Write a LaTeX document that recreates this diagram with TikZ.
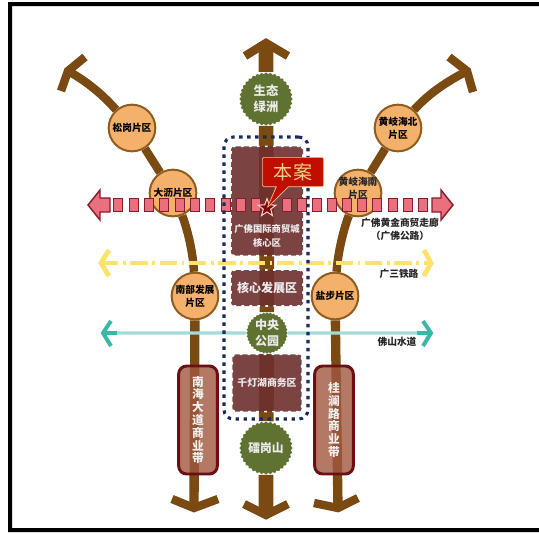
\documentclass[tikz,border=0pt]{standalone}
\usepackage{fontspec}
\setmainfont{Noto Sans CJK SC}
\usetikzlibrary{arrows.meta,shapes.geometric,shapes.callouts}
\definecolor{spinebrown}{HTML}{7B4A12}
\definecolor{leafgreen}{HTML}{5F7232}
\definecolor{zonered}{HTML}{6E2F2F}
\definecolor{stripred}{HTML}{A0573F}
\definecolor{stripline}{HTML}{6A0F14}
\definecolor{discfill}{HTML}{F4B16C}
\definecolor{discline}{HTML}{8F5D20}
\definecolor{corridor}{HTML}{E9707C}
\definecolor{corridorline}{HTML}{8A1A30}
\definecolor{railyellow}{HTML}{FFE26A}
\definecolor{watercyan}{HTML}{A3DCD6}
\definecolor{waterteal}{HTML}{3BB7A8}
\definecolor{navydot}{HTML}{1A2A5A}
\definecolor{siteword}{HTML}{F2CE86}
\definecolor{sitered}{HTML}{C00F00}
\tikzset{
  spine/.style={draw=spinebrown,line width=6.3pt,miter limit=10},
  trunk/.style={draw=spinebrown,line width=11pt},
  disc/.style={circle,draw=discline,line width=1.5pt,fill=discfill,minimum size=35pt,inner sep=0pt,align=center,font=\fontsize{7.3}{9.5}\selectfont\bfseries,text=black},
  leaf/.style={star,star points=36,star point ratio=1.07,fill=leafgreen,inner sep=0pt,align=center,text=white!92!black},
  zone/.style={rectangle,rounded corners=2.5pt,fill=zonered,fill opacity=.9,text opacity=1,draw=white,line width=1.2pt,dash pattern=on 2pt off 4pt,align=center,inner sep=0pt,text=white!92!black},
  strip/.style={rectangle,rounded corners=6pt,draw=stripline,line width=2.2pt,fill=stripred,fill opacity=.8,text opacity=1,minimum width=29pt,minimum height=81pt,inner sep=0pt,align=center,text=white!94!black,font=\fontsize{8.8}{9.6}\selectfont\bfseries},
  tag/.style={align=center,inner sep=0pt,text=black!85,font=\fontsize{7.3}{9.5}\selectfont\bfseries},
  cell/.style={rectangle,draw=corridorline,line width=1.1pt,fill=corridor,minimum width=7pt,minimum height=9.5pt,inner sep=0pt},
}
\begin{document}
\begin{tikzpicture}[x=.75pt,y=-.75pt]
    \useasboundingbox (0,0) rectangle (539,533);
    % frame: no right side
    \fill (8,2) rectangle (539,6) (8,2) rectangle (12,532) (8,528) rectangle (539,532);

    % round stops
    \node[leaf,minimum size=40pt,font=\fontsize{9.2}{12}\selectfont\bfseries] (shengtai) at (266,99) {生态\\绿洲};
    \node[leaf,minimum size=31pt,font=\fontsize{9}{11.4}\selectfont\bfseries] (zhongyang) at (267,333) {中央\\公园};
    \node[leaf,minimum size=38pt,font=\fontsize{8.8}{11}\selectfont\bfseries] (leigang) at (266,448) {礌岗山};
    \node[disc] (songgang) at (132,128) {松岗片区};
    \node[disc] (dali) at (173,193) {\raisebox{1.6pt}{大沥片区}};
    \node[disc] (nanbu) at (195,296) {南部发展\\片区};
    \node[disc] (huangbei) at (398,128) {黄岐海北\\片区};
    \node[disc] (huangnan) at (358,193) {};
    \node[disc] (yanbu) at (335,296) {盐步片区};

    % arrow ends
    \coordinate (tipC) at (266,44);  \coordinate (endC) at (266,515);
    \coordinate (tipL) at (68,71);   \coordinate (endL) at (194,509);
    \coordinate (tipR) at (467,71);  \coordinate (endR) at (338,509);

    % centre spine
    \draw[trunk] (tipC) -- (shengtai) (shengtai) -- (zhongyang) (zhongyang) -- (leigang) (leigang) -- (endC);
    \draw[spine] (245,56) -- (266,43) -- (288,56);
    \draw[spine] (244,504) -- (266,515) -- (288,504);

    % side spines
    \draw[spine] (tipL) .. controls (88,82) and (104,96) .. (songgang);
    \draw[spine] (songgang) -- (dali);
    \draw[spine] (dali) .. controls (186,225) and (193,250) .. (nanbu);
    \draw[spine,line width=7pt] (nanbu) -- (endL);
    \draw[spine] (85,57) -- (68,71) -- (61,91);
    \draw[spine] (172,499) -- (194,508) -- (218,499);
    \draw[spine] (tipR) .. controls (450,80) and (430,92) .. (huangbei);
    \draw[spine] (huangbei) -- (huangnan);
    \draw[spine] (huangnan) .. controls (345,225) and (338,250) .. (yanbu);
    \draw[spine,line width=7pt] (yanbu) -- (endR);
    \draw[spine] (449,57) -- (467,71) -- (473,92);
    \draw[spine] (314,503) -- (338,508) -- (358,498);

    % zones
    \node[zone,minimum width=54pt,minimum height=82pt] (hexinzone) at (267,201) {};
    \node[zone,minimum width=54pt,minimum height=27pt,font=\fontsize{9}{11}\selectfont\bfseries] (fazhan) at (267,288) {核心发展区};
    \node[zone,minimum width=52pt,minimum height=43pt,font=\fontsize{7.4}{9}\selectfont\bfseries] (qiandeng) at (267,383) {千灯湖商务区};
    \node[align=center,inner sep=0pt,text=white!92!black,font=\fontsize{7}{10}\selectfont\bfseries] (hexin) at (267,236) {广佛国际商贸城\\核心区};
    \node[strip] (nanhai) at (198,420) {南\\海\\大\\道\\商\\业\\带};
    \node[strip] (guilan) at (334,420) {桂\\澜\\路\\商\\业\\带};

    % rail line
    \coordinate (railL) at (101,263); \coordinate (railR) at (431,263);
    \draw[railyellow,line width=3pt,dash pattern=on 13pt off 3.5pt on 2pt off 3.5pt] (railL) -- (railR);
    \draw[railyellow,line width=3.6pt] (109,250) -- (railL) -- (109,276) (424,250) -- (railR) -- (424,276);

    % water line
    \coordinate (waterL) at (103,333); \coordinate (waterR) at (431,333);
    \draw[watercyan,line width=2.4pt] (waterL) -- (zhongyang) (zhongyang) -- (waterR);
    \draw[waterteal,line width=3pt] (111,321) -- (waterL) -- (111,346) (423,321) -- (waterR) -- (423,346);
    \draw[waterteal,line width=3pt] (waterL) -- ++(14,0) (waterR) -- ++(-14,0);

    % corridor
    \foreach \cx in {118,134,149,164,180,195,210,226,241,256,287,302,317,332,347,362,377,393,408,423}
      \node[cell] at (\cx,205) {};
    \draw[corridorline,line width=1.1pt,fill=corridor] (88,205) -- (100,190) -- (100,198) -- (110,198) -- (110,212) -- (100,212) -- (100,220) -- cycle;
    \draw[corridorline,line width=1.1pt,fill=corridor] (453,205) -- (441,190) -- (441,198) -- (432,198) -- (432,212) -- (441,212) -- (441,220) -- cycle;

    % project boundary
    \node[rectangle,minimum width=63pt,minimum height=211.5pt,rounded corners=7pt,draw=navydot,line width=2.3pt,dash pattern=on 2.6pt off 3.4pt] (boundary) at (266,278) {};

    % site marker
    \node[star,star points=5,star point ratio=2.4,minimum size=14pt,inner sep=0pt,fill=red!50!black,draw=white!80!red,line width=.8pt] (site) at (267,208) {};
    \node[rectangle callout,callout absolute pointer={(site.center)},callout pointer width=9pt,rounded corners=1.5pt,fill=sitered,draw=orange!50!white,line width=.5pt,minimum width=46pt,minimum height=22pt,inner sep=0pt,text=siteword,font=\fontsize{14.3}{16}\selectfont] (benan) at (293,172) {本案};

    % labels
    \node[tag] (huangnanname) at (358,188) {黄岐海南\\片区};
    \node[tag] (corridorname) at (400,229) {广佛黄金商贸走廊\\（广佛公路）};
    \node[tag] (railname) at (399,274) {广三铁路};
    \node[tag] (watername) at (397,342) {佛山水道};
\end{tikzpicture}
\end{document}
